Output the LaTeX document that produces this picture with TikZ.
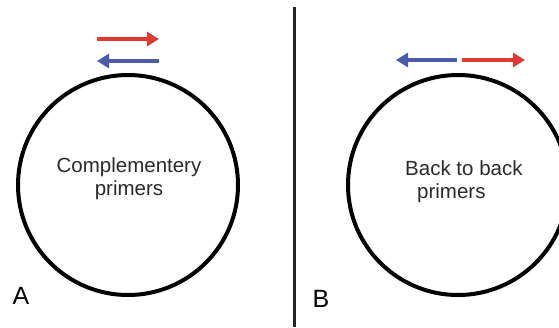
\documentclass[tikz,border=0pt]{standalone}
\usepackage{fontspec}
\setmainfont{Liberation Sans}
\usetikzlibrary{arrows.meta}
\definecolor{pred}{HTML}{DF3B30}
\definecolor{pblue}{HTML}{4A5CA8}
\definecolor{txt}{HTML}{2A2A2A}
\begin{document}
\begin{tikzpicture}[x=1pt,y=-1pt,
  ring/.style={circle,draw=black,line width=4pt,minimum size=220pt,inner sep=0pt},
  primer/.style={line width=4pt,-{Triangle[length=12pt,width=14pt]}},
  lbl/.style={font=\fontsize{20.5}{23}\selectfont,text=txt,inner sep=0pt},
  panel/.style={font=\fontsize{25}{27}\selectfont,text=black,inner sep=0pt}]
\useasboundingbox (0,0) rectangle (559,327);
\clip (0,0) rectangle (559,327);
% panel A
\node[ring] (cA) at (128,185) {};
\coordinate (ra1) at (97,39);
\coordinate (ra2) at (159,39);
\coordinate (ba1) at (159,61);
\coordinate (ba2) at (97,61);
\draw[primer,draw=pred,color=pred] (ra1) -- (ra2);
\draw[primer,draw=pblue,color=pblue] (ba1) -- (ba2);
\node[lbl,align=center] (tA) at (129,179) {Complementery\\primers};
\node[panel] (A) at (21,296) {A};
% divider
\coordinate (d1) at (294,7);
\coordinate (d2) at (294,327);
\draw[line width=3pt,color=black!85] (d1) -- (d2);
% panel B
\node[ring] (cB) at (458,185) {};
\coordinate (bb1) at (457,60);
\coordinate (bb2) at (396,60);
\coordinate (rb1) at (462,60);
\coordinate (rb2) at (525,60);
\draw[primer,draw=pblue,color=pblue] (bb1) -- (bb2);
\draw[primer,draw=pred,color=pred] (rb1) -- (rb2);
\node[lbl,anchor=base west] (tB1) at (405,175) {Back to back};
\node[lbl,anchor=base west] (tB2) at (417,198) {primers};
\node[panel] (B) at (321,299) {B};
\end{tikzpicture}
\end{document}
